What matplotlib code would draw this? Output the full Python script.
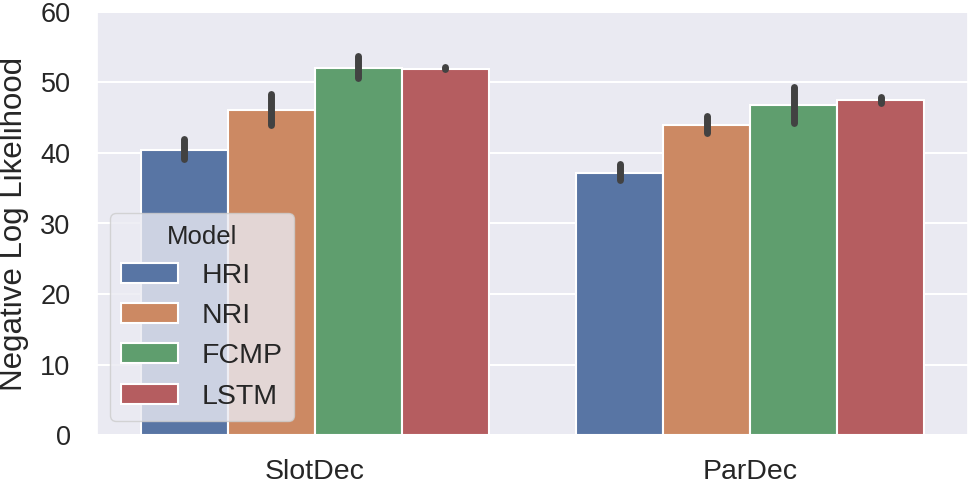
import matplotlib
matplotlib.use("Agg")
import matplotlib.pyplot as plt
import numpy as np
import seaborn as sns

sns.set_theme(style="darkgrid")
plt.rcParams['font.family'] = ['Liberation Sans', 'DejaVu Sans']

categories = ["SlotDec", "ParDec"]
models = ["HRI", "NRI", "FCMP", "LSTM"]
means = {
    "HRI":  [40.4, 37.2],
    "NRI":  [46.1, 44.0],
    "FCMP": [52.1, 46.8],
    "LSTM": [51.9, 47.5],
}
ci_low = {
    "HRI":  [39.2, 36.2],
    "NRI":  [44.0, 42.8],
    "FCMP": [50.6, 44.2],
    "LSTM": [51.9, 47.1],
}
ci_high = {
    "HRI":  [42.0, 38.4],
    "NRI":  [48.4, 45.3],
    "FCMP": [53.8, 49.4],
    "LSTM": [52.2, 48.0],
}
colors = ["#5875A4", "#CC8963", "#5F9E6E", "#B55D60"]

fig = plt.figure(figsize=(9.68, 4.86), dpi=100)
ax = fig.add_axes([97/968, (486-435)/486, 871/968, 423/486])

n = len(models)
width = 0.8 / n
x = np.arange(len(categories))
for i, m in enumerate(models):
    pos = x - 0.4 + width * (i + 0.5)
    ax.bar(pos, means[m], width=width, color=colors[i], edgecolor="white",
           linewidth=1.5, label=m, zorder=2)
    ax.vlines(pos, ci_low[m], ci_high[m], color="#424242", linewidth=5,
              capstyle="round", zorder=3)

ax.set_xlim(-0.5, 1.5)
ax.set_ylim(0, 60)
ax.set_xticks(x)
ax.set_xticklabels(categories)
ax.set_yticks([0, 10, 20, 30, 40, 50, 60])
ax.tick_params(axis="x", labelsize=20.5, pad=11)
ax.tick_params(axis="y", labelsize=19.5, pad=13)
ax.set_ylabel("Negative Log Likelihood", fontsize=22.5)
ax.yaxis.set_label_coords(-0.0775, 0.5)
ax.grid(axis="x", visible=False)
ax.grid(axis="y", color="white", linewidth=1.5)

leg = ax.legend(title="Model", loc="lower left", bbox_to_anchor=(0.015, 0.033),
                borderaxespad=0, fontsize=20.5, title_fontsize=18.5)

fig.savefig("out.png", dpi=100)
